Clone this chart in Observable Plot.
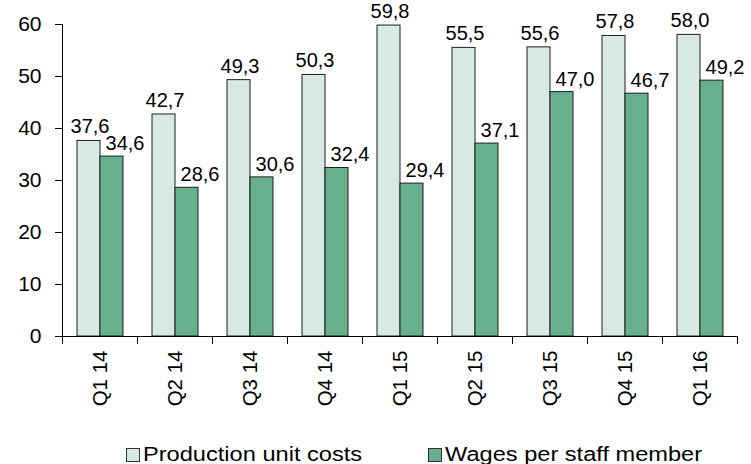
<!DOCTYPE html>
<html>
<head>
<meta charset="utf-8">
<script src="https://cdn.jsdelivr.net/npm/d3@7"></script>
<script src="https://cdn.jsdelivr.net/npm/@observablehq/plot@0.6"></script>
<style>
  body { margin: 0; background: #fff; font-family: "Liberation Sans", Arial, sans-serif; }
  #wrap { position: relative; width: 751px; height: 464px; }
  #legend { position: relative; height: 39px; font-size: 20px; color: #000; }
  .item { position: absolute; top: 18px; display: flex; align-items: center; white-space: nowrap; }
  .sw { width: 12px; height: 12px; border: 1px solid #333; margin-right: 3px; flex: none; }
  .lbl { display: inline-block; transform: scaleX(1.18); transform-origin: left center; }
</style>
</head>
<body>
<div id="wrap">
  <div id="chart"></div>
  <div id="legend"></div>
</div>
<script>
const quarters = ["Q1 14", "Q2 14", "Q3 14", "Q4 14", "Q1 15", "Q2 15", "Q3 15", "Q4 15", "Q1 16"];
const productionUnitCosts = [37.6, 42.7, 49.3, 50.3, 59.8, 55.5, 55.6, 57.8, 58.0];
const wagesPerStaffMember = [34.6, 28.6, 30.6, 32.4, 29.4, 37.1, 47.0, 46.7, 49.2];
const seriesNames = ["Production unit costs", "Wages per staff member"];
const seriesColors = ["#d6eae3", "#67b08e"];
const yTicks = [0, 10, 20, 30, 40, 50, 60];

const rows = [];
quarters.forEach((q, i) => {
  rows.push({quarter: q, series: seriesNames[0], value: productionUnitCosts[i]});
  rows.push({quarter: q, series: seriesNames[1], value: wagesPerStaffMember[i]});
});
const fmt = v => v.toFixed(1).replace(".", ",");

const H = 425, MT = 24, MB = 89;
const inner = H - MT - MB;

const chart = Plot.plot({
  width: 751,
  height: H,
  marginTop: MT,
  marginBottom: MB,
  marginLeft: 59,
  marginRight: 11,
  style: {fontFamily: "'Liberation Sans', Arial, sans-serif", fontSize: "20px", color: "#000", background: "#fff", overflow: "visible"},
  fx: {domain: quarters, padding: 0, label: null},
  x: {domain: seriesNames, paddingInner: 0, paddingOuter: 0.62, axis: null},
  y: {domain: [0, 60], label: null},
  color: {domain: seriesNames, range: seriesColors},
  marks: [
    Plot.barY(rows, {fx: "quarter", x: "series", y: "value", fill: "series", stroke: "#1e1e1e", strokeWidth: 1}),
    Plot.ruleY([0], {stroke: "#000"}),
    Plot.frame({anchor: "left", facetAnchor: "left", stroke: "#000"}),
    Plot.frame({anchor: "left", insetTop: inner, insetBottom: -7, stroke: "#000"}),
    Plot.frame({anchor: "right", facetAnchor: "right", insetTop: inner, insetBottom: -7, stroke: "#000"}),
    Plot.axisY(yTicks, {tickSize: 7, tickPadding: 14, fontSize: 21, label: null, stroke: "#000"}),
    Plot.axisFx({anchor: "bottom", tickRotate: -90, tickSize: 0, tickPadding: 14, fontSize: 20.5, label: null}),
    Plot.text(rows.filter(d => d.series === seriesNames[0]), {fx: "quarter", x: "series", y: "value", text: d => fmt(d.value), dy: -14, dx: 1, fontSize: 20, fill: "#000"}),
    Plot.text(rows.filter(d => d.series === seriesNames[1]), {fx: "quarter", x: "series", y: "value", text: d => fmt(d.value), dy: -13, dx: 13, fontSize: 20, fill: "#000"})
  ]
});
document.getElementById("chart").appendChild(chart);

const legend = document.getElementById("legend");
const lefts = [126, 428];
seriesNames.forEach((name, i) => {
  const it = document.createElement("div");
  it.className = "item";
  it.style.left = lefts[i] + "px";
  const sw = document.createElement("span");
  sw.className = "sw";
  sw.style.background = seriesColors[i];
  const t = document.createElement("span");
  t.className = "lbl";
  t.textContent = name;
  it.appendChild(sw);
  it.appendChild(t);
  legend.appendChild(it);
});
</script>
</body>
</html>
